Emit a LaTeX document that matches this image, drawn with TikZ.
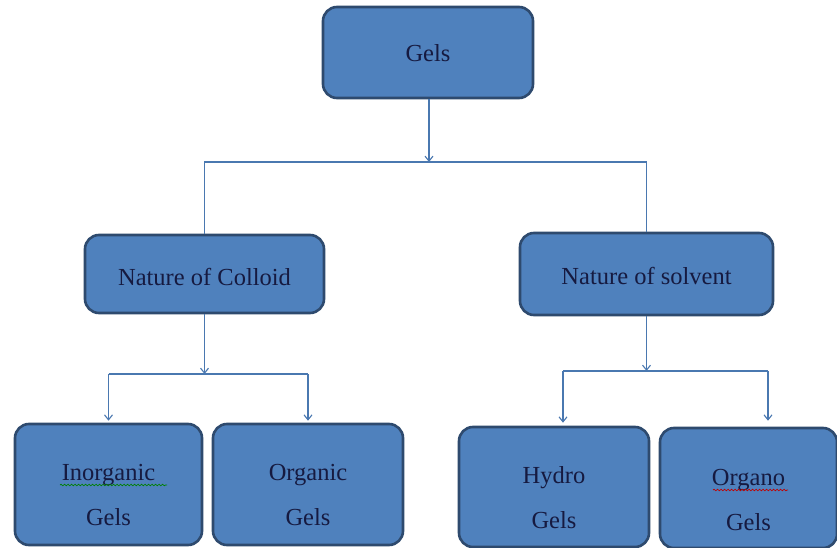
\documentclass[tikz,border=0pt]{standalone}
\usepackage{fontspec}
\setmainfont{Liberation Serif}
\usetikzlibrary{arrows.meta,decorations.pathmorphing}
\definecolor{boxfill}{HTML}{4F81BD}
\definecolor{boxline}{HTML}{2E4A6E}
\definecolor{txt}{HTML}{161A40}
\definecolor{conn}{HTML}{4A78B0}
\begin{document}
\begin{tikzpicture}[x=1pt,y=-1pt,
  gbox/.style={draw=boxline,line width=2.6pt,fill=boxfill,rounded corners=14pt,
    inner sep=0pt,align=center,text=txt,font=\fontsize{24.5}{45}\selectfont},
  twoline/.style={text height=#1,text depth=0pt},
  conline/.style={draw=conn,line width=1.1pt},
  arr/.style={conline,-{Straight Barb[length=5pt,width=8pt]}},
  squig/.style={line width=0.7pt,decorate,decoration={snake,amplitude=0.8pt,segment length=3.5pt}}]
\useasboundingbox (0,0) rectangle (837,548);
\fill[white] (0,0) rectangle (837,548);

\node[gbox,minimum width=210pt,minimum height=91pt,text height=18pt,text depth=0pt] (gels) at (428,52.5) {Gels};
\node[gbox,minimum width=239pt,minimum height=78pt,text height=22pt,text depth=0pt] (colloid) at (204.5,274) {Nature of Colloid};
\node[gbox,minimum width=253pt,minimum height=82pt,text height=20pt,text depth=0pt] (solvent) at (646.5,274) {Nature of solvent};
\node[gbox,twoline=81pt,minimum width=187pt,minimum height=121pt] (inorg) at (108.5,484.5) {Inorganic\\Gels};
\node[gbox,twoline=81pt,minimum width=190pt,minimum height=121pt] (org) at (308,484.5) {Organic\\Gels};
\node[gbox,twoline=82pt,minimum width=190pt,minimum height=120pt] (hydro) at (554,487) {Hydro\\Gels};
\node[gbox,twoline=84pt,minimum width=177pt,minimum height=120pt] (organo) at (748.5,488) {Organo\\Gels};

% spell-check squiggles
\draw[squig,draw=green!50!black] (60,485) -- (167,485);
\draw[squig,draw=red!75!black] (713,490) -- (788,490);

% level 1
\coordinate (j1) at (429,162);
\draw[arr] (gels.south -| j1) -- (j1);
\draw[conline] (colloid.north) |- (j1) -| (solvent.north);

% level 2 left
\coordinate (j2) at (204.5,374);
\draw[arr] (colloid.south) -- (j2);
\draw[conline] (inorg.north |- j2) -- (org.north |- j2);
\draw[arr,shorten >=2pt] (inorg.north |- j2) -- (inorg.north);
\draw[arr,shorten >=2pt] (org.north |- j2) -- (org.north);

% level 2 right
\coordinate (j3) at (646.5,371);
\coordinate (h3) at (563,371);
\coordinate (o3) at (768,371);
\draw[arr] (solvent.south) -- (j3);
\draw[conline] (h3) -- (o3);
\draw[arr,shorten >=3pt] (h3) -- (h3 |- hydro.north);
\draw[arr,shorten >=6pt] (o3) -- (o3 |- organo.north);
\end{tikzpicture}
\end{document}
